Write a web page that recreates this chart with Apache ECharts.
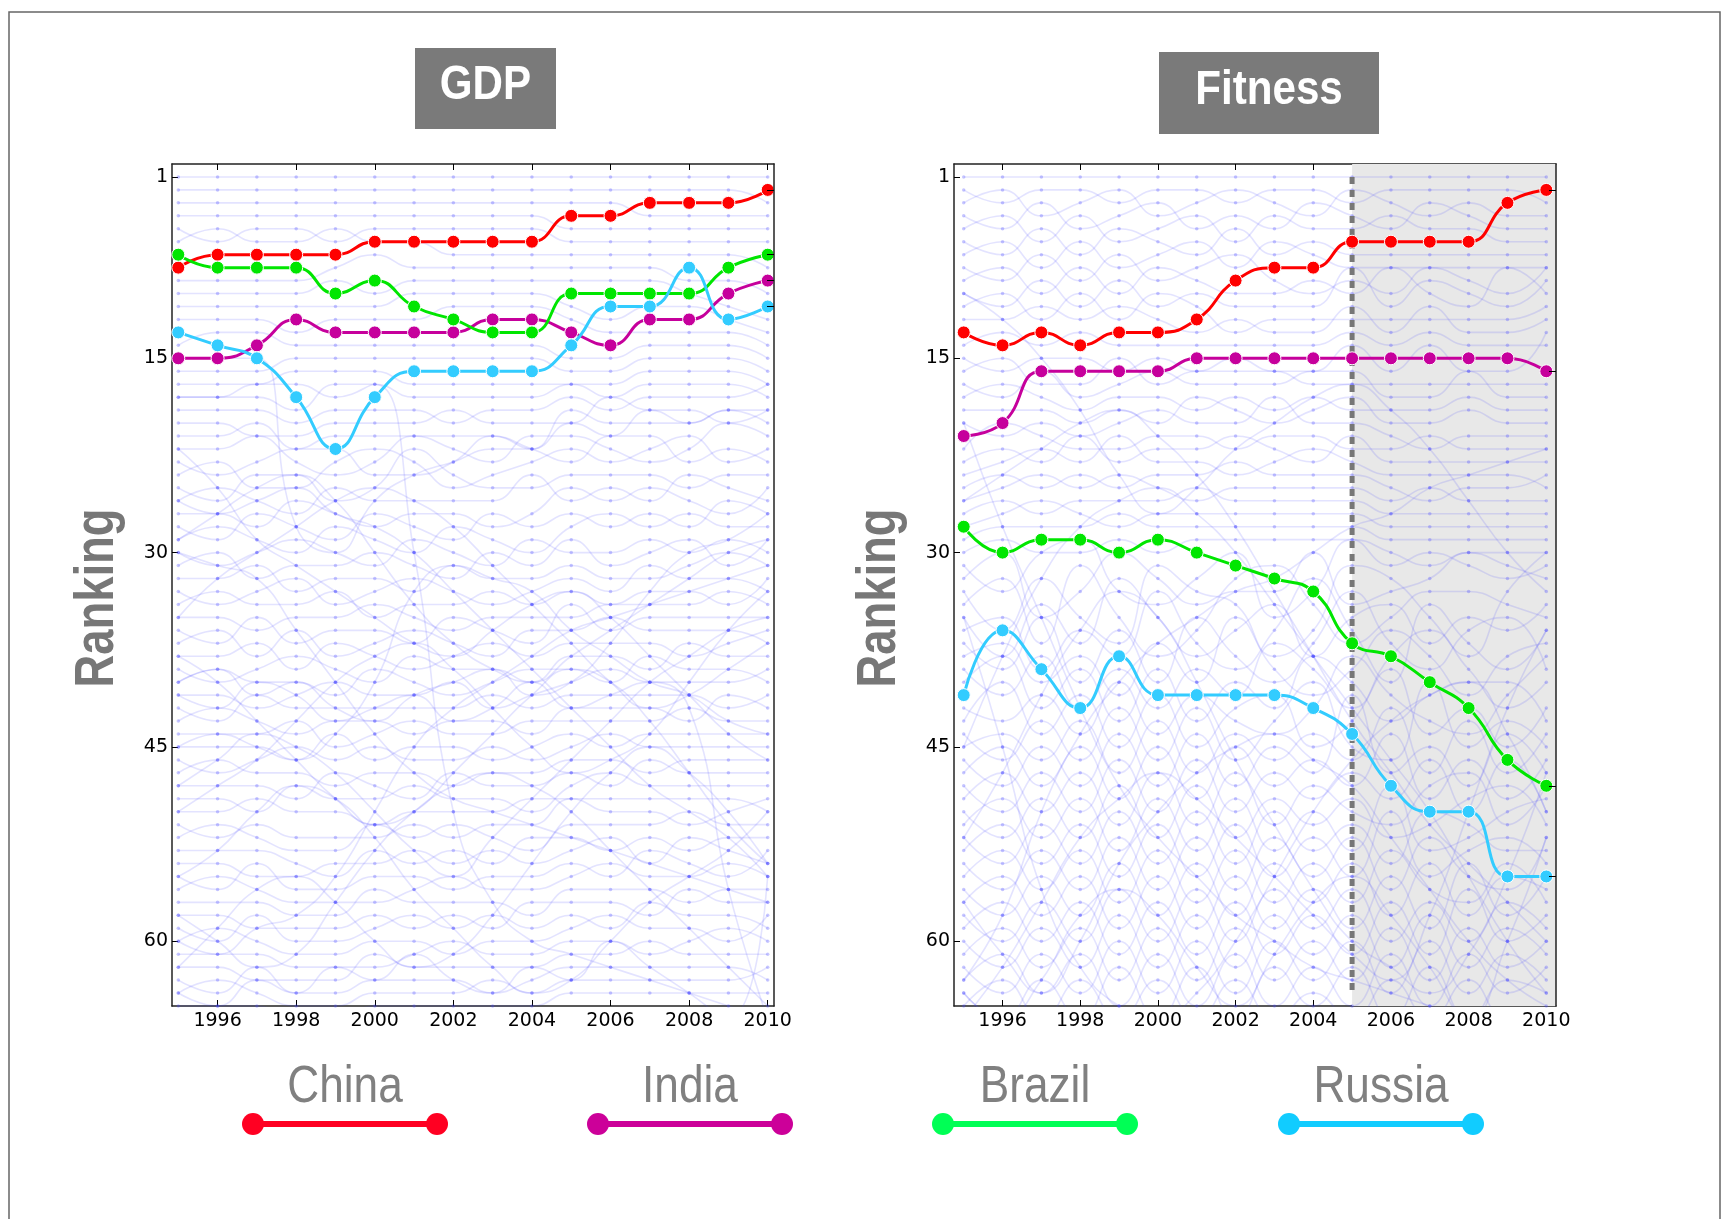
<!DOCTYPE html>
<html>
<head>
<meta charset="utf-8">
<title>GDP and Fitness ranking</title>
<script src="https://cdn.jsdelivr.net/npm/echarts@6/dist/echarts.min.js"></script>
<style>
  html, body { margin: 0; padding: 0; background: #fff; }
  #chart { width: 1725px; height: 1219px; }
</style>
</head>
<body>
<div id="chart"></div>
<script>
// ---- data ----
const years = [1995, 1996, 1997, 1998, 1999, 2000, 2001, 2002, 2003, 2004, 2005, 2006, 2007, 2008, 2009, 2010];
const yearTicks = [1996, 1998, 2000, 2002, 2004, 2006, 2008, 2010];
const rankTicks = [1, 15, 30, 45, 60];
const countries = ['China', 'India', 'Brazil', 'Russia'];
const lineColors = ['#ff0000', '#c6009c', '#00e600', '#33ccff'];
const legendColors = ['#ff0022', '#cc0099', '#00ff55', '#11ccff'];

const gdpChina  = [8, 7, 7, 7, 7, 6, 6, 6, 6, 6, 4, 4, 3, 3, 3, 2];
const gdpIndia  = [15, 15, 14, 12, 13, 13, 13, 13, 12, 12, 13, 14, 12, 12, 10, 9];
const gdpBrazil = [7, 8, 8, 8, 10, 9, 11, 12, 13, 13, 10, 10, 10, 10, 8, 7];
const gdpRussia = [13, 14, 15, 18, 22, 18, 16, 16, 16, 16, 14, 11, 11, 8, 12, 11];

const fitChina  = [13, 14, 13, 14, 13, 13, 12, 9, 8, 8, 6, 6, 6, 6, 3, 2];
const fitIndia  = [21, 20, 16, 16, 16, 16, 15, 15, 15, 15, 15, 15, 15, 15, 15, 16];
const fitBrazil = [28, 30, 29, 29, 30, 29, 30, 31, 32, 33, 37, 38, 40, 42, 46, 48];
const fitRussia = [41, 36, 39, 42, 38, 41, 41, 41, 41, 42, 44, 48, 50, 50, 55, 55];

// fitness panel: shaded years after 2005 and the dotted marker
const splitYear = 2005;
const splitRanks = [1, 64];

// rankings of the other countries (faint lines)
const gdpOthers = [
  [1,1,1,1,1,1,1,1,1,1,1,1,1,1,1,1],
  [2,2,2,2,2,2,2,2,2,2,2,2,2,2,2,3],
  [3,3,3,3,3,3,3,3,3,3,3,3,4,4,4,4],
  [4,4,4,4,4,4,4,4,4,4,5,5,5,5,5,5],
  [5,6,5,5,6,5,5,5,5,5,6,6,6,6,6,6],
  [6,5,6,6,5,6,6,7,7,7,7,7,7,7,7,8],
  [9,9,9,9,8,7,8,8,8,8,8,8,8,9,9,10],
  [10,10,10,10,9,10,9,9,9,9,9,9,9,10,11,12],
  [11,11,11,11,11,11,10,10,10,10,11,12,11,11,12,13],
  [12,12,12,13,12,12,12,11,11,11,12,13,13,13,13,14],
  [14,13,13,14,14,14,14,14,14,14,15,15,14,14,14,15],
  [16,16,16,15,15,15,15,15,15,15,16,16,15,15,15,16],
  [17,17,17,16,16,16,17,17,17,17,17,17,16,16,16,17],
  [18,18,18,19,17,17,18,18,18,18,17,18,17,17,17,18],
  [19,19,19,20,19,19,19,20,19,19,18,19,18,18,18,17],
  [20,20,21,21,20,20,20,19,20,20,20,18,19,19,20,19],
  [21,21,20,22,21,21,21,21,21,22,19,20,20,20,19,20],
  [22,22,21,23,24,23,21,22,23,21,21,22,23,22,20,21],
  [23,24,23,22,22,24,24,23,21,22,23,21,21,23,22,23],
  [24,23,25,25,23,22,23,25,24,23,22,23,22,21,23,22],
  [25,26,24,24,26,25,22,24,25,25,24,24,24,25,24,24],
  [26,25,26,27,25,26,26,26,26,24,26,25,26,24,25,26],
  [27,27,28,26,27,28,27,27,28,27,25,26,25,26,27,25],
  [28,29,27,28,29,27,28,29,27,28,27,28,27,28,26,27],
  [29,28,29,30,28,29,30,28,29,30,28,27,28,27,28,28],
  [30,31,30,29,30,31,29,30,31,29,30,30,29,30,29,30],
  [31,30,32,31,31,30,31,32,30,31,29,31,30,29,31,29],
  [32,32,31,33,32,32,33,31,32,32,31,32,32,31,30,31],
  [33,34,33,32,34,33,32,33,34,33,32,33,31,32,32,33],
  [34,33,34,34,33,35,34,34,33,34,33,34,33,33,34,32],
  [35,35,36,35,35,34,35,36,35,35,35,34,34,34,33,34],
  [36,37,35,37,36,36,37,35,36,37,34,36,35,35,35,35],
  [37,36,38,36,38,37,36,37,38,36,36,35,36,36,36,37],
  [38,38,37,39,37,38,39,38,37,38,37,37,37,38,37,36],
  [39,40,39,38,39,40,38,39,39,40,38,38,39,37,38,38],
  [40,39,40,40,41,39,40,41,40,39,39,40,38,39,39,40],
  [41,41,42,41,40,41,41,40,42,41,40,39,40,40,40,39],
  [42,43,41,42,42,42,42,42,41,42,41,41,41,41,42,41],
  [43,42,43,44,43,43,44,43,43,44,42,42,42,43,41,42],
  [44,44,44,43,45,44,43,44,44,43,43,43,43,42,43,43],
  [45,45,45,46,44,46,45,45,46,45,44,45,44,44,44,44],
  [46,47,46,45,46,45,46,46,45,46,45,44,45,45,45,45],
  [47,46,47,47,48,47,47,48,47,47,46,46,47,46,46,46],
  [48,48,48,49,47,48,49,47,48,48,47,48,46,47,47,47],
  [49,49,50,48,49,49,48,49,49,50,48,47,48,48,48,48],
  [50,50,49,50,50,51,50,50,50,49,49,49,49,49,49,50],
  [51,52,51,52,52,52,51,52,51,51,49,50,50,51,50,49],
  [52,51,52,53,53,51,52,51,52,53,51,51,51,50,51,51],
  [53,53,53,54,55,53,54,53,54,52,52,53,52,53,52,52],
  [54,54,55,55,54,54,53,54,53,54,53,52,54,52,53,54],
  [55,56,54,56,56,55,55,56,55,55,54,55,53,54,55,53],
  [56,55,56,57,57,57,56,55,56,56,55,54,55,55,54,55],
  [57,57,57,58,58,56,57,57,57,58,56,56,56,57,56,56],
  [58,58,59,59,59,58,59,58,59,57,57,57,58,56,57,57],
  [59,60,58,60,60,59,58,59,58,59,58,59,57,58,58,59],
  [60,59,60,61,61,60,60,61,60,60,59,58,59,59,60,58],
  [61,61,61,62,62,62,61,60,61,61,60,60,61,60,59,60],
  [62,62,63,63,63,61,62,62,62,62,61,61,60,61,61,61],
  [63,64,62,64,64,63,63,63,64,63,62,62,62,62,62,63],
  [64,63,64,65,65,64,64,64,63,64,63,63,63,63,63,62],
  [65,65,65,66,66,65,65,65,65,65,64,64,64,64,64,64],
  [15,15,15,28,30,26,24,23,22,22,20,21,19,20,19,19],
  [18,18,17,17,18,17,30,50,57,60,61,62,63,64,65,66],
  [45,44,45,46,44,40,33,31,32,33,36,38,40,41,43,44],
  [60,61,59,58,55,50,45,42,40,38,36,35,34,33,32,31],
  [30,31,32,36,40,44,47,49,50,51,52,53,54,55,56,57],
  [41,42,40,41,43,42,41,43,42,40,42,41,40,42,56,66],
  [64,65,63,64,62,63,61,63,64,62,63,60,62,64,66,55],
  [40,39,41,40,42,43,41,40,39,41,40,37,33,30,29,27],
  [26,27,26,25,27,28,30,33,36,39,42,45,48,50,52,55],
  [50,48,46,43,40,38,37,39,42,45,47,46,44,40,36,33],
  [22,25,29,31,33,35,37,38,36,34,33,35,38,41,44,46],
  [35,32,30,28,26,25,26,28,31,34,37,40,42,41,39,37],
  [48,46,44,45,47,50,53,55,52,49,46,43,40,38,36,35],
  [55,53,50,48,49,52,56,59,62,64,63,60,57,55,53,50],
  [58,60,62,61,57,53,50,48,47,48,50,53,56,59,62,65],
  [38,40,43,46,49,51,50,47,44,41,39,40,43,47,51,54],
  [29,27,25,24,26,30,34,37,39,40,38,36,34,32,30,29],
  [62,59,56,55,57,60,62,61,58,54,50,47,45,47,50,54]
];

const fitOthers = [
  [1,1,1,1,1,1,1,1,1,1,1,1,1,1,1,1],
  [2,3,2,2,3,2,2,3,2,2,3,2,2,2,2,3],
  [3,2,4,3,2,4,3,2,3,4,2,3,4,3,4,4],
  [4,5,3,5,4,3,5,4,5,3,4,5,3,4,5,5],
  [5,4,6,4,6,5,4,6,4,5,5,4,5,5,6,6],
  [6,7,5,7,5,6,7,5,7,6,7,7,7,7,7,7],
  [7,6,8,6,8,7,6,8,6,7,8,8,8,8,8,8],
  [8,9,7,9,7,9,8,7,9,10,9,10,8,9,10,8],
  [9,8,10,8,10,8,9,10,10,9,10,8,10,11,8,10],
  [10,11,9,11,9,11,10,11,11,11,8,11,9,10,11,9],
  [11,10,12,10,12,10,11,13,12,12,12,12,12,12,12,11],
  [12,12,11,12,11,12,13,12,13,13,11,13,11,13,13,12],
  [14,13,14,13,14,14,14,14,14,14,13,14,13,14,14,14],
  [15,16,15,15,16,15,16,15,16,16,14,16,14,16,16,13],
  [16,15,17,17,15,17,16,16,16,17,17,17,17,17,17,17],
  [17,18,16,18,17,16,17,17,17,16,16,18,18,16,18,18],
  [18,17,18,19,18,18,19,18,19,18,19,19,19,18,19,19],
  [19,19,19,20,19,20,18,19,20,19,18,20,20,19,20,20],
  [20,21,20,21,20,19,20,20,18,20,20,21,22,21,21,21],
  [22,20,21,22,22,21,21,22,21,21,22,22,21,22,22,22],
  [23,22,23,21,23,22,22,21,22,23,21,23,23,23,23,23],
  [24,23,22,23,21,23,23,24,23,22,23,24,24,24,24,25],
  [25,24,25,24,25,24,24,23,24,24,24,25,26,25,25,24],
  [26,25,24,25,24,25,26,25,25,25,25,26,25,26,26,26],
  [27,26,27,26,26,26,25,26,26,26,26,27,27,27,27,27],
  [28,27,26,27,28,27,27,27,27,27,27,28,28,28,28,28],
  [29,28,28,28,27,28,28,28,28,28,28,29,29,29,29,29],
  [30,29,30,30,29,30,29,29,29,29,29,30,31,30,30,30],
  [31,33,30,29,33,34,32,30,35,33,29,31,30,31,32,31],
  [32,30,35,33,30,32,34,33,33,30,34,33,32,30,31,32],
  [33,36,32,35,37,31,33,34,38,36,31,32,35,38,33,30],
  [34,32,37,31,35,38,36,32,31,34,37,35,33,33,34,35],
  [35,38,34,37,32,35,38,36,34,38,35,34,37,35,36,34],
  [36,35,39,36,38,33,37,39,36,32,36,40,34,37,39,36],
  [37,39,35,40,36,40,35,38,40,37,33,37,39,36,35,39],
  [38,37,40,38,41,37,40,35,39,41,39,36,38,41,38,37],
  [39,41,38,42,39,42,39,41,37,39,42,38,36,39,42,40],
  [40,38,42,39,43,39,43,40,42,38,40,43,41,40,40,43],
  [42,43,41,44,40,44,41,43,44,42,38,41,43,44,41,38],
  [43,40,44,41,45,41,45,42,41,45,43,39,44,42,45,42],
  [44,46,43,46,42,46,42,46,43,40,45,46,40,45,43,45],
  [45,44,46,43,47,43,47,44,46,44,46,42,47,43,47,44],
  [46,48,45,48,44,48,44,48,45,47,41,47,45,48,44,47],
  [47,45,48,45,49,45,49,45,48,46,48,44,49,46,49,46],
  [48,50,47,50,46,50,46,50,47,49,47,49,46,50,46,50],
  [49,47,50,47,51,47,51,47,51,48,50,51,48,47,51,48],
  [50,52,49,52,48,52,48,52,49,51,49,52,51,49,48,51],
  [51,49,52,49,53,49,53,49,53,50,53,48,53,52,50,49],
  [52,54,51,54,50,54,50,54,50,53,51,54,50,51,53,53],
  [53,51,54,51,55,51,55,51,55,52,55,50,55,53,52,54],
  [54,56,53,56,52,56,52,56,52,55,52,56,52,55,56,52],
  [55,53,56,53,57,53,57,53,57,54,57,53,56,57,54,57],
  [56,58,55,58,54,58,54,58,54,57,54,58,54,58,55,56],
  [57,55,58,55,59,55,59,55,59,56,59,55,59,54,58,55],
  [58,60,57,60,56,60,56,60,56,59,56,60,57,60,57,59],
  [59,57,60,57,61,57,61,57,61,58,61,57,61,56,60,58],
  [60,62,59,62,58,62,58,62,58,61,58,62,58,62,59,61],
  [61,59,62,59,63,59,63,59,63,60,63,59,63,59,62,60],
  [62,64,61,64,60,64,60,64,60,63,60,64,60,64,61,63],
  [63,61,64,61,65,61,65,61,65,62,65,61,65,61,64,62],
  [64,66,63,66,62,66,62,66,62,65,62,66,62,66,63,64],
  [65,63,66,63,66,63,66,63,66,64,66,63,66,63,66,66],
  [20,28,35,42,48,52,55,58,60,62,63,64,65,66,66,66],
  [63,58,50,44,40,37,35,33,32,30,28,27,25,24,23,22],
  [10,12,15,19,24,27,25,22,20,18,17,19,22,26,30,33],
  [57,61,64,60,54,50,47,45,44,46,48,52,56,60,63,65],
  [45,38,32,28,26,25,27,30,34,38,42,46,50,55,60,64],
  [66,62,57,52,49,47,49,52,55,58,61,63,58,50,42,36],
  [26,24,22,20,19,21,24,28,33,38,43,47,51,54,57,60],
  [64,66,63,58,56,58,62,65,61,57,55,58,62,66,60,52],
  [35,45,56,62,65,66,64,60,55,50,46,43,41,40,44,50],
  [52,47,41,36,33,35,40,46,51,56,60,62,64,61,55,47]
];

// ---- layout ----
const sansFont = "'Liberation Sans', Arial, sans-serif";
const panels = [
  { title: 'GDP', main: [gdpChina, gdpIndia, gdpBrazil, gdpRussia], others: gdpOthers,
    left: 172, xMin: 1994.84, xMax: 2010.16, split: false,
    box: [415, 48, 141, 81], rankX: 98 },
  { title: 'Fitness', main: [fitChina, fitIndia, fitBrazil, fitRussia], others: fitOthers,
    left: 954, xMin: 1994.75, xMax: 2010.25, split: true,
    box: [1159, 52, 220, 82], rankX: 880 }
];
const gridTop = 164, gridW = 602, gridH = 842;

const chart = echarts.init(document.getElementById('chart'), null, { renderer: 'canvas' });

const frame = { show: true, onZero: false, lineStyle: { color: '#222', width: 1.5 } };
const tickStyle = { color: '#000', width: 1 };
const labelFont = { fontFamily: 'DejaVu Sans', fontSize: 19, color: '#000', formatter: v => String(v) };

const grid = [], xAxis = [], yAxis = [], series = [], graphic = [];

panels.forEach((p, i) => {
  grid.push({ left: p.left, top: gridTop, width: gridW, height: gridH, show: false });

  xAxis.push({
    gridIndex: i, type: 'value', position: 'bottom', min: p.xMin, max: p.xMax,
    axisLine: frame, splitLine: { show: false },
    axisTick: { inside: true, length: 6, customValues: yearTicks, lineStyle: tickStyle },
    axisLabel: Object.assign({ customValues: yearTicks, margin: 6 }, labelFont)
  });
  xAxis.push({
    gridIndex: i, type: 'value', position: 'top', min: p.xMin, max: p.xMax,
    axisLine: frame, splitLine: { show: false },
    axisTick: { inside: true, length: 6, customValues: yearTicks, lineStyle: tickStyle },
    axisLabel: { show: false }
  });
  yAxis.push({
    gridIndex: i, type: 'value', position: 'left', inverse: true, min: 0, max: 65,
    axisLine: frame, splitLine: { show: false },
    axisTick: { inside: true, length: 6, customValues: rankTicks, lineStyle: tickStyle },
    axisLabel: Object.assign({ customValues: rankTicks, margin: 4 }, labelFont)
  });
  yAxis.push({
    gridIndex: i, type: 'value', position: 'right', inverse: true, min: 0, max: 65, z: 10,
    axisLine: frame, splitLine: { show: false },
    axisTick: { inside: true, length: 7, customValues: p.main.map(a => a[a.length - 1]), lineStyle: tickStyle },
    axisLabel: { show: false }
  });

  const xi = 2 * i, yi = 2 * i;

  if (p.split) {
    series.push({
      type: 'line', xAxisIndex: xi, yAxisIndex: yi, data: [[splitYear, splitRanks[0]]],
      symbol: 'none', silent: true, z: 1, lineStyle: { opacity: 0 },
      markArea: {
        silent: true, itemStyle: { color: '#e8e8e8' },
        data: [[{ xAxis: splitYear }, { xAxis: p.xMax }]]
      }
    });
  }

  p.others.forEach(row => {
    series.push({
      type: 'line', xAxisIndex: xi, yAxisIndex: yi, silent: true, z: 2,
      data: years.map((y, k) => [y, row[k]]),
      smooth: true, symbol: 'circle', symbolSize: 3.5, showAllSymbol: true,
      lineStyle: { color: 'rgba(70, 70, 255, 0.15)', width: 1.6 },
      itemStyle: { color: 'rgba(70, 70, 255, 0.3)' }
    });
  });

  if (p.split) {
    series.push({
      type: 'line', xAxisIndex: xi, yAxisIndex: yi, silent: true, z: 3,
      data: splitRanks.map(r => [splitYear, r]), symbol: 'none',
      lineStyle: { color: '#777', width: 5, type: [7, 6] }
    });
  }

  p.main.forEach((vals, c) => {
    series.push({
      name: countries[c], type: 'line', xAxisIndex: xi, yAxisIndex: yi, z: 5,
      data: years.map((y, k) => [y, vals[k]]),
      smooth: true, symbol: 'circle', symbolSize: 13,
      lineStyle: { color: lineColors[c], width: 3 },
      itemStyle: { color: lineColors[c], borderColor: '#fff', borderWidth: 1 }
    });
  });

  // title box
  const [bx, by, bw, bh] = p.box;
  graphic.push({ type: 'rect', shape: { x: bx, y: by, width: bw, height: bh }, style: { fill: '#7a7a7a' } });
  graphic.push({
    type: 'text', x: bx + bw / 2, y: by + bh / 2 - 3, scaleX: 0.86,
    style: { text: p.title, fill: '#fff', fontSize: 49, fontWeight: 'bold', fontFamily: sansFont,
      align: 'center', verticalAlign: 'middle' }
  });
  // y-axis title
  graphic.push({
    type: 'text', x: p.rankX, y: 598, rotation: Math.PI / 2, scaleX: 0.81,
    style: { text: 'Ranking', fill: '#777', fontSize: 56, fontWeight: 'bold', fontFamily: sansFont,
      align: 'center', verticalAlign: 'middle' }
  });
});

// legend below the panels
const legendX = [345, 690, 1035, 1381];
countries.forEach((name, c) => {
  const cx = legendX[c], half = 92, ly = 1124;
  graphic.push({ type: 'line', shape: { x1: cx - half, y1: ly, x2: cx + half, y2: ly },
    style: { stroke: legendColors[c], lineWidth: 6 } });
  graphic.push({ type: 'circle', shape: { cx: cx - half, cy: ly, r: 11 }, style: { fill: legendColors[c] } });
  graphic.push({ type: 'circle', shape: { cx: cx + half, cy: ly, r: 11 }, style: { fill: legendColors[c] } });
  graphic.push({
    type: 'text', x: cx, y: 1088, scaleX: 0.85,
    style: { text: name, fill: '#808080', fontSize: 52, fontFamily: sansFont,
      align: 'center', verticalAlign: 'middle' }
  });
});

// outer frame
graphic.push({ type: 'rect', shape: { x: 9, y: 12, width: 1711, height: 1300 },
  style: { fill: 'none', stroke: '#666', lineWidth: 1.5 }, z: -1 });

chart.setOption({
  animation: false,
  backgroundColor: '#fff',
  grid, xAxis, yAxis, series, graphic
});
</script>
</body>
</html>
